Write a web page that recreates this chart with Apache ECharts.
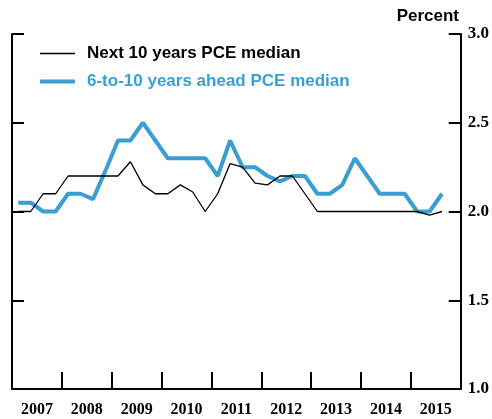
<!DOCTYPE html>
<html>
<head>
<meta charset="utf-8">
<script src="https://cdn.jsdelivr.net/npm/echarts@6/dist/echarts.min.js"></script>
<style>
  html, body { margin: 0; padding: 0; background: #fff; }
  #chart { width: 492px; height: 419px; }
</style>
</head>
<body>
<div id="chart"></div>
<script>
// survey quarters (SPF: Feb, May, Aug, Nov)
const quarters = [
  '2007Q1', '2007Q2', '2007Q3', '2007Q4',
  '2008Q1', '2008Q2', '2008Q3', '2008Q4',
  '2009Q1', '2009Q2', '2009Q3', '2009Q4',
  '2010Q1', '2010Q2', '2010Q3', '2010Q4',
  '2011Q1', '2011Q2', '2011Q3', '2011Q4',
  '2012Q1', '2012Q2', '2012Q3', '2012Q4',
  '2013Q1', '2013Q2', '2013Q3', '2013Q4',
  '2014Q1', '2014Q2', '2014Q3', '2014Q4',
  '2015Q1', '2015Q2', '2015Q3'
]
const next10 = [
  2.0, 2.0, 2.1, 2.1,
  2.2, 2.2, 2.2, 2.2,
  2.2, 2.28, 2.15, 2.1,
  2.1, 2.15, 2.11, 2.0,
  2.1, 2.27, 2.25, 2.16,
  2.15, 2.2, 2.2, 2.1,
  2.0, 2.0, 2.0, 2.0,
  2.0, 2.0, 2.0, 2.0,
  2.0, 1.98, 2.0
]
const ahead6to10 = [
  2.05, 2.05, 2.0, 2.0,
  2.1, 2.1, 2.07, 2.23,
  2.4, 2.4, 2.5, 2.4,
  2.3, 2.3, 2.3, 2.3,
  2.2, 2.4, 2.25, 2.25,
  2.2, 2.17, 2.2, 2.2,
  2.1, 2.1, 2.15, 2.3,
  2.2, 2.1, 2.1, 2.1,
  2.0, 2.0, 2.1
]
const years = ['2007', '2008', '2009', '2010', '2011', '2012', '2013', '2014', '2015']
const yTicks = [1.0, 1.5, 2.0, 2.5, 3.0]

const blue = '#3a9fd0'
const sans = '"Liberation Sans Narrow", "Arial Narrow", "Liberation Sans", Arial, sans-serif'
const serif = '"Liberation Serif", "Times New Roman", serif'

// quarter -> decimal year at the middle of the survey month
function quarterToYear(q) {
  const y = parseInt(q.slice(0, 4))
  const n = parseInt(q.slice(5))
  const month = 3 * n - 1
  return y + (month - 0.5) / 12
}

const pairs = (vals) => vals.map((v, i) => [quarterToYear(quarters[i]), v])

const chart = echarts.init(document.getElementById('chart'))

const option = {
  animation: false,
  backgroundColor: '#fff',
  title: {
    text: 'Percent',
    right: 28,
    top: 3,
    textStyle: { fontFamily: sans, fontSize: 17, fontWeight: 'bold', color: '#000' }
  },
  legend: {
    left: 33,
    top: 40,
    orient: 'vertical',
    itemWidth: 35,
    itemHeight: 20,
    itemGap: 11,
    itemStyle: { color: 'transparent', borderWidth: 0 },
    data: [
      {
        name: 'Next 10 years PCE median',
        textStyle: { color: '#000' },
        lineStyle: { width: 1.3 }
      },
      {
        name: '6-to-10 years ahead PCE median',
        textStyle: { color: blue },
        lineStyle: { width: 4 }
      }
    ],
    textStyle: { fontFamily: sans, fontSize: 17, fontWeight: 'bold', padding: [0, 0, 0, 7], height: 20 }
  },
  grid: { left: 12, right: 31, top: 34, bottom: 30, containLabel: false },
  xAxis: [
    {
      type: 'value',
      min: 2007,
      max: 2016,
      interval: 1,
      axisLine: { show: true, lineStyle: { color: '#000', width: 2 } },
      axisTick: { show: true, inside: true, length: 17, lineStyle: { color: '#000', width: 2 } },
      axisLabel: { show: false },
      splitLine: { show: false }
    },
    {
      type: 'category',
      data: years,
      position: 'bottom',
      boundaryGap: true,
      axisLine: { show: false },
      axisTick: { show: false },
      axisLabel: { margin: 13, fontFamily: serif, fontSize: 16, fontWeight: 'bold', color: '#000' },
      splitLine: { show: false }
    }
  ],
  yAxis: [
    {
      type: 'value',
      position: 'left',
      min: yTicks[0],
      max: yTicks[yTicks.length - 1],
      interval: 0.5,
      axisLine: { show: true, lineStyle: { color: '#000', width: 2 } },
      axisTick: { show: true, inside: true, length: 12, lineStyle: { color: '#000', width: 2 } },
      axisLabel: { show: false },
      splitLine: { show: false }
    },
    {
      type: 'value',
      position: 'right',
      min: yTicks[0],
      max: yTicks[yTicks.length - 1],
      interval: 0.5,
      axisLine: { show: true, lineStyle: { color: '#000', width: 2 } },
      axisTick: { show: true, inside: true, length: 12, lineStyle: { color: '#000', width: 2 } },
      axisLabel: {
        margin: 7,
        fontFamily: serif,
        fontSize: 17,
        fontWeight: 'bold',
        color: '#000',
        formatter: v => v.toFixed(1)
      },
      splitLine: { show: false }
    }
  ],
  series: [
    {
      name: '6-to-10 years ahead PCE median',
      type: 'line',
      xAxisIndex: 0,
      yAxisIndex: 0,
      data: pairs(ahead6to10),
      symbol: 'none',
      lineStyle: { color: blue, width: 4 },
      itemStyle: { color: blue }
    },
    {
      name: 'Next 10 years PCE median',
      type: 'line',
      xAxisIndex: 0,
      yAxisIndex: 0,
      data: pairs(next10),
      symbol: 'none',
      lineStyle: { color: '#000', width: 1.3 },
      itemStyle: { color: '#000' }
    }
  ]
}

chart.setOption(option)
</script>
</body>
</html>
